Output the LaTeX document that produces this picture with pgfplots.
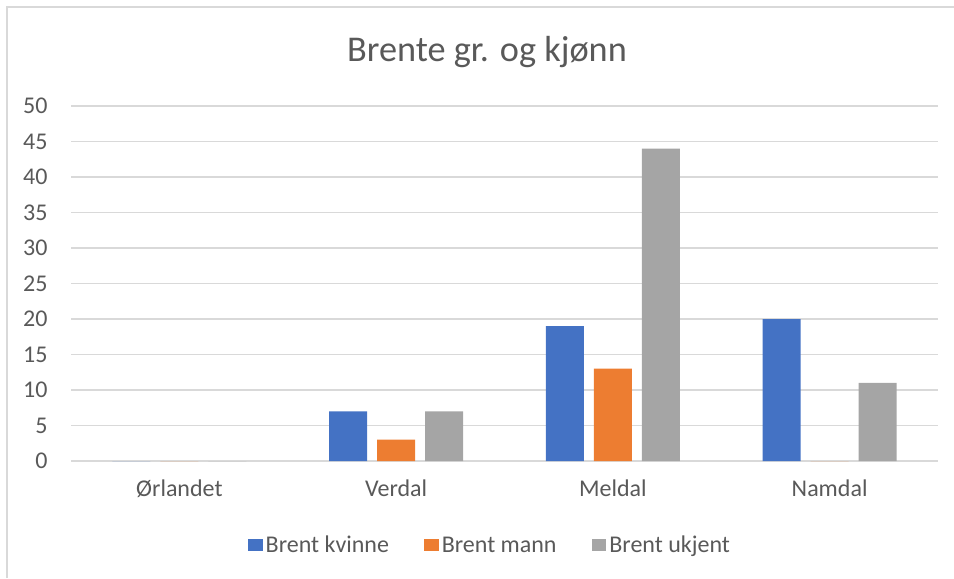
\documentclass[border=0pt]{standalone}
\usepackage{fontspec}
\setmainfont{Carlito}
\usepackage{pgfplots}
\pgfplotsset{compat=1.18}
\definecolor{cBlue}{HTML}{4472C4}
\definecolor{cOrange}{HTML}{ED7D31}
\definecolor{cGray}{HTML}{A5A5A5}
\definecolor{cGrid}{HTML}{D9D9D9}
\definecolor{cText}{HTML}{595959}
\begin{document}
\begin{tikzpicture}
\path[use as bounding box] (0,0) rectangle (357.75pt,216.75pt);
\draw[cGrid,line width=0.6pt] (2.625pt,0) -- (2.625pt,214.125pt) -- (357.75pt,214.125pt);
\begin{axis}[
  at={(26.625pt,43.875pt)}, anchor=south west,
  scale only axis, width=325.125pt, height=133.125pt,
  ybar=3.75pt, bar width=14.25pt,
  xmin=-0.5, xmax=3.5, ymin=0, ymax=50,
  xtick={0,1,2,3}, xticklabels={Ørlandet,Verdal,Meldal,Namdal},
  ytick={0,5,...,50},
  major tick length=0pt,
  ymajorgrids, grid style={cGrid,line width=0.7pt},
  axis y line*=left,
  y axis line style={draw=none},
  axis x line*=bottom,
  x axis line style={cGrid,line width=0.7pt,-},
  /pgf/number format/assume math mode=true,
  ticklabel style={font=\fontsize{9}{10}\selectfont, text=cText},
  yticklabel style={anchor=east, inner sep=0pt, xshift=-8.6pt},
  xticklabel style={anchor=north, inner sep=0pt, yshift=-7pt},
  title={Brente gr. og kjønn},
  title style={at={(axis description cs:0.4798,1.107)}, anchor=center, yshift=0pt, font=\fontsize{13.6}{16}\selectfont, text=cText, inner sep=0pt},
  legend columns=3,
  legend style={at={(axis description cs:0.484,-0.2366)}, anchor=center, draw=none, fill=none,
    font=\fontsize{9}{10}\selectfont, text=cText,
    /tikz/every even column/.append style={column sep=12pt},
    nodes={inner sep=1.2pt, text height=1.6ex, text depth=0.45ex}},
  legend image code/.code={\fill[#1,draw=none] (0pt,-2.35pt) rectangle (5.4pt,2.35pt);},
]
\addplot[fill=cBlue, draw=none] coordinates {(0,0) (1,7) (2,19) (3,20)};
\addplot[fill=cOrange, draw=none] coordinates {(0,0) (1,3) (2,13) (3,0)};
\addplot[fill=cGray, draw=none] coordinates {(0,0) (1,7) (2,44) (3,11)};
\legend{Brent kvinne, Brent mann, Brent ukjent}
\end{axis}
\end{tikzpicture}
\end{document}
